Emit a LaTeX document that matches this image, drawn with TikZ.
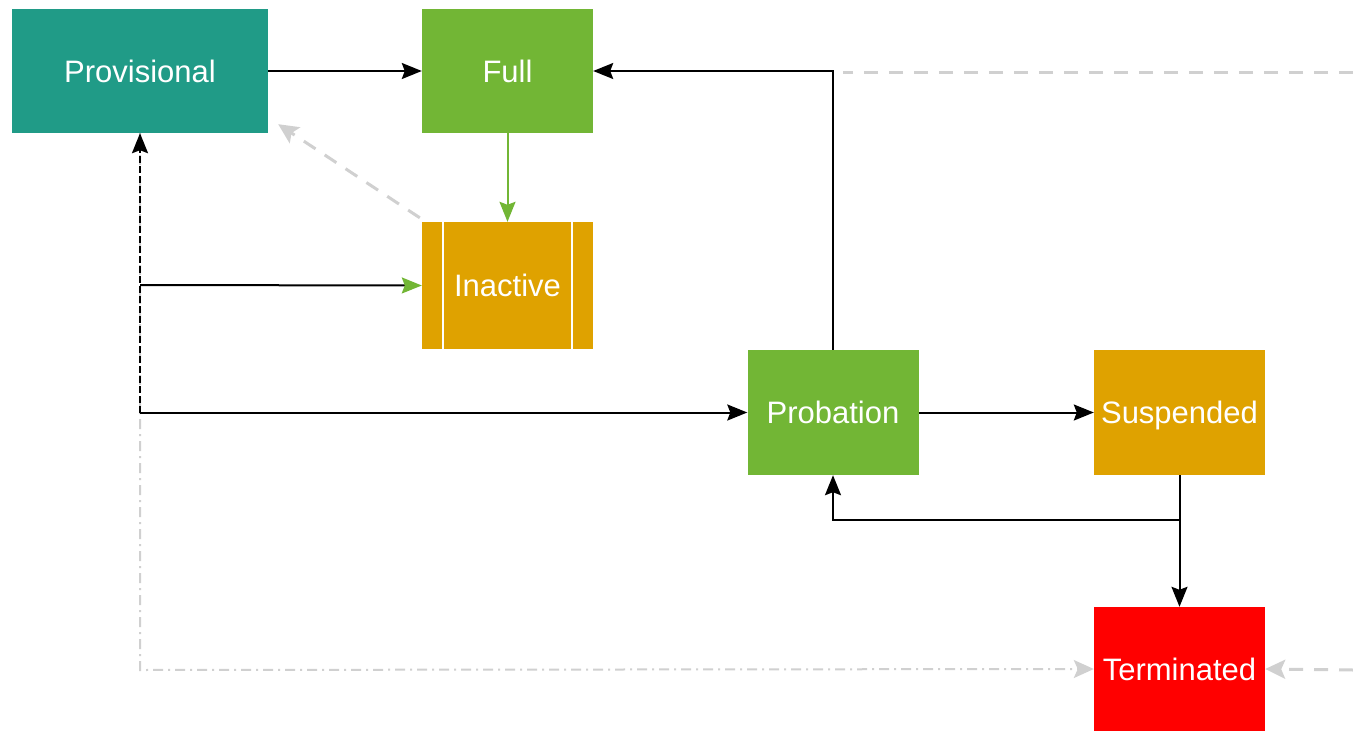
\documentclass[tikz,border=0pt]{standalone}
\usepackage{fontspec}
\setmainfont{Liberation Sans}
\usetikzlibrary{arrows.meta}
\definecolor{teal}{HTML}{209B87}
\definecolor{leaf}{HTML}{72B635}
\definecolor{amber}{HTML}{DFA200}
\definecolor{alarm}{HTML}{FF0000}
\definecolor{faint}{HTML}{D0D0D0}
\tikzset{
  state/.style={draw=none, minimum width=171pt, minimum height=125pt, inner sep=0pt,
    text=white, font=\fontsize{31}{36}\selectfont, text height=28pt, text depth=6pt},
  tip/.style={-{Triangle[length=20pt,width=16pt,inset=3pt,#1]}},
  tip/.default={},
  flow/.style={draw=black, line width=2pt, tip},
  ghost/.style={draw=faint, line width=3pt, dash pattern=on 14pt off 11pt,
    -{Triangle[length=20pt,width=19pt,inset=4pt]}},
  ghostdot/.style={draw=faint, line width=2pt, dash pattern=on 10pt off 5pt on 2pt off 5pt,
    -{Triangle[length=20pt,width=18pt,inset=4pt]}},
}
\begin{document}
\begin{tikzpicture}[x=1pt,y=-1pt]
\useasboundingbox (0,0) rectangle (1353,731);
% states
\node[state, fill=teal, minimum width=256pt, minimum height=124pt] (prov) at (140,71) {Provisional};
\node[state, fill=leaf, minimum height=124pt] (full) at (507.5,71) {Full};
\node[state, fill=amber, minimum height=127pt] (inact) at (507.5,285.5) {Inactive};
\draw[white, line width=2.5pt] ([xshift=21pt]inact.north west) -- ([xshift=21pt]inact.south west)
  ([xshift=-21pt]inact.north east) -- ([xshift=-21pt]inact.south east);
\node[state, fill=leaf] (prob) at (833,412.5) {Probation};
\node[state, fill=amber] (susp) at (1179.5,412.5) {Suspended};
\node[state, fill=alarm, minimum height=124pt] (term) at (1179.5,669) {Terminated};
% junction points
\coordinate (jin) at (140,285);
\coordinate (jpr) at (140,412.5);
\coordinate (jlow) at (140,670);
\coordinate (edgeA) at (1353,72);
\coordinate (edgeB) at (1353,670);
\coordinate (jtop) at (843,72);
% faint background links
\draw[ghostdot] (prov.south) -- (jlow) -- (term.west);
\draw[ghost] (edgeB) -- (term.east);
\draw[ghost, -] (edgeA) -- (jtop);
\draw[ghost] (inact.north west) ++(-2,-4) -- ([xshift=10pt,yshift=9pt]prov.south east);
% main links
\draw[flow] (prov.east) -- (full.west);
\draw[flow] (prob.north) |- (full.east);
\draw[flow, draw=leaf, tip={fill=leaf}] (full.south) -- (inact.north);
\draw[flow, tip={color=leaf}] (jin) -- (inact.west);
\draw[flow] (jpr) -- (prob.west);
\draw[flow, dash pattern=on 7pt off 3pt] (jpr) -- (prov.south);
\draw[flow] (prob.east) -- (susp.west);
\draw[flow] (susp.south) -- ++(0,45) -| (prob.south);
\draw[flow] (susp.south) -- (term.north);
\end{tikzpicture}
\end{document}
